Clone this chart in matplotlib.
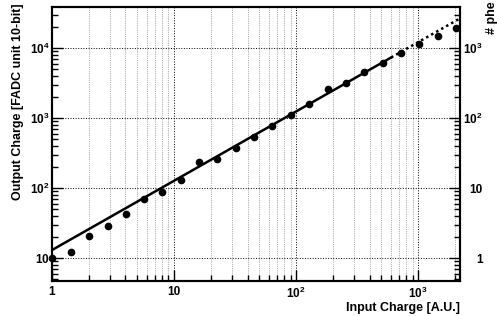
import matplotlib
matplotlib.use('Agg')
import matplotlib.pyplot as plt
from matplotlib.ticker import FixedLocator, LogLocator, NullFormatter
import numpy as np

plt.rcParams['font.family'] = ['Liberation Sans', 'DejaVu Sans']
plt.rcParams['font.weight'] = 'bold'
plt.rcParams['mathtext.fontset'] = 'custom'
plt.rcParams['mathtext.bf'] = 'Liberation Sans:bold'
plt.rcParams['mathtext.rm'] = 'Liberation Sans:bold'

# measured points
input_charge = [1, 1.43, 2.02, 2.86, 4.04, 5.71, 8.0, 11.3, 15.9, 22.6, 32, 45.3,
                64, 90.5, 128, 181, 256, 362, 512, 724, 1024, 1448, 2048]
output_charge = [10, 12.3, 20.8, 28.7, 43, 70, 87, 130, 238, 262, 377, 540,
                 776, 1100, 1570, 2570, 3160, 4500, 6170, 8490, 11400, 15000, 19300]

# power-law fit y = a * x^b
fit_a = 13.0
fit_b = 0.99
fit_end = 600      # fitted range ends here, extrapolation drawn dotted
x_min, x_max = 1, 2200
y_min, y_max = 4.7, 38500
phe_factor = 10.0  # FADC counts per photoelectron

xticks = [1, 10, 100, 1000]
xtick_labels = ['1', '10', r'$10^{2}$', r'$10^{3}$']
yticks = [10, 100, 1000, 10000]
ytick_labels = [r'$10$', r'$10^{2}$', r'$10^{3}$', r'$10^{4}$']
y2ticks = [1, 10, 100, 1000]
y2tick_labels = ['1', '10', r'$10^{2}$', r'$10^{3}$']

fig = plt.figure(figsize=(4.97, 3.16), dpi=100)
ax = fig.add_axes([0.1046, 0.1108, 0.821, 0.867])

ax.set_xscale('log')
ax.set_yscale('log')
ax.set_xlim(x_min, x_max)
ax.set_ylim(y_min, y_max)

xs = np.logspace(0, np.log10(fit_end), 50)
ax.plot(xs, fit_a * xs ** fit_b, color='black', lw=1.8)
xd = np.logspace(np.log10(fit_end), np.log10(x_max), 20)
ax.plot(xd, fit_a * xd ** fit_b, color='black', lw=1.8, ls=(0, (1, 1.3)))

ax.plot(input_charge, output_charge, 'o', color='black', ms=4.5, clip_on=False)

ax.xaxis.set_major_locator(FixedLocator(xticks))
ax.set_xticklabels(xtick_labels)
ax.xaxis.set_minor_locator(LogLocator(base=10, subs=np.arange(2, 10)))
ax.xaxis.set_minor_formatter(NullFormatter())
ax.yaxis.set_major_locator(FixedLocator(yticks))
ax.set_yticklabels(ytick_labels)
ax.yaxis.set_minor_locator(LogLocator(base=10, subs=np.arange(2, 10)))
ax.yaxis.set_minor_formatter(NullFormatter())

ax.grid(True, which='major', axis='both', color='black', ls=':', lw=0.7)
ax.grid(True, which='minor', axis='x', color='black', ls=':', lw=0.5, alpha=0.6)

ax.tick_params(which='both', direction='in', labelsize=8.5, width=1, top=False, right=False)
ax.tick_params(which='major', length=8)
ax.tick_params(which='minor', length=4)
ax.tick_params(axis='x', pad=3.5)
ax.tick_params(axis='y', pad=2)
for s in ax.spines.values():
    s.set_linewidth(1.5)

ax2 = ax.twinx()
ax2.set_yscale('log')
ax2.set_ylim(y_min / phe_factor, y_max / phe_factor)
ax2.yaxis.set_major_locator(FixedLocator(y2ticks))
ax2.set_yticklabels(y2tick_labels)
ax2.yaxis.set_minor_locator(LogLocator(base=10, subs=np.arange(2, 10)))
ax2.yaxis.set_minor_formatter(NullFormatter())
ax2.tick_params(which='both', direction='in', labelsize=8.5, width=1)
ax2.tick_params(which='major', length=8, pad=16.5)
ax2.tick_params(which='minor', length=4)
for lab in ax2.get_yticklabels():
    lab.set_horizontalalignment('right')
for s in ax2.spines.values():
    s.set_linewidth(1.5)

fig.text(0.036, 0.99, 'Output Charge [FADC unit 10-bit]', rotation=90,
         ha='center', va='top', fontsize=9, fontweight='bold')
fig.text(0.9256, 0.026, 'Input Charge [A.U.]', ha='right', va='center',
         fontsize=9, fontweight='bold')
fig.text(0.99, 0.995, '# phe', rotation=90, ha='center', va='top',
         fontsize=9, fontweight='bold')

fig.savefig('out.png', dpi=100)
